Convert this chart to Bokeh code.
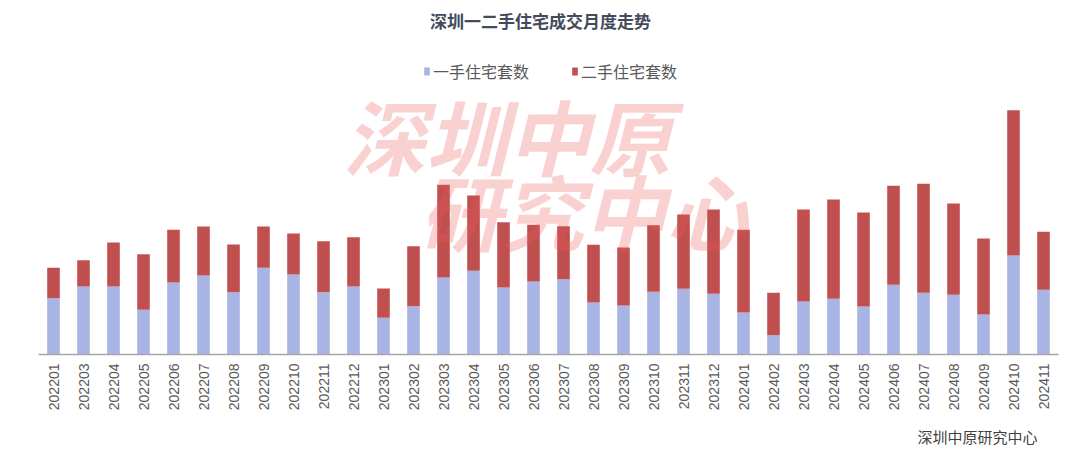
from bokeh.plotting import figure
from bokeh.models import ColumnDataSource, Label, FactorRange, Title
from bokeh.embed import file_html
from bokeh.resources import INLINE
import math

months = ["202201", "202203", "202204", "202205", "202206", "202207", "202208", "202209",
          "202210", "202211", "202212", "202301", "202302", "202303", "202304", "202305",
          "202306", "202307", "202308", "202309", "202310", "202311", "202312", "202401",
          "202402", "202403", "202404", "202405", "202406", "202407", "202408", "202409",
          "202410", "202411"]
new_homes = [2815, 3400, 3400, 2235, 3600, 3950, 3115, 4335, 4000, 3115, 3400, 1835, 2415,
             3850, 4185, 3350, 3650, 3765, 2600, 2450, 3135, 3285, 3035, 2100, 965, 2650,
             2785, 2400, 3485, 3085, 2985, 2000, 4950, 3235]
resale_homes = [1520, 1315, 2200, 2780, 2635, 2450, 2385, 2065, 2050, 2550, 2465, 1465, 3000,
                4635, 3765, 3265, 2835, 2650, 2885, 2900, 3330, 3715, 4215, 4135, 2120, 4600,
                4965, 4700, 4950, 5450, 4565, 3800, 7265, 2900]
series_names = ["一手住宅套数", "二手住宅套数"]

title_text = "深圳一二手住宅成交月度走势"
source_text = "深圳中原研究中心"
watermark_lines = ["深圳中原", "研究中心"]

BLUE = "#a7b4e4"
RED = "#c0504f"
CJK = "Noto Sans CJK SC"

source = ColumnDataSource(data=dict(month=months, new=new_homes, resale=resale_homes))

p = figure(width=1064, height=456, x_range=FactorRange(*months, range_padding=0),
           y_range=(0, 17700), output_backend="svg", toolbar_location=None,
           y_axis_location=None, min_border_left=38, min_border_right=6,
           min_border_top=0, min_border_bottom=102)
p.outline_line_color = None
p.grid.visible = False
p.background_fill_color = "white"
p.border_fill_color = "white"

p.vbar_stack(["new", "resale"], x="month", width=0.42, color=[BLUE, RED],
             source=source, legend_label=series_names, line_color=None)

ax = p.xaxis[0]
ax.axis_line_color = "#a6a6a6"
ax.axis_line_width = 1.5
ax.major_tick_line_color = None
ax.minor_tick_line_color = None
ax.major_tick_out = 0
ax.major_tick_in = 0
ax.major_label_orientation = math.pi / 2
ax.major_label_standoff = 9
ax.major_label_text_font = "Liberation Sans"
ax.major_label_text_font_size = "14px"
ax.major_label_text_color = "#595959"
ax.group_text_font_size = "0px"

lg = p.legend[0]
lg.location = (385, 271)
lg.orientation = "horizontal"
lg.border_line_color = None
lg.background_fill_alpha = 0
lg.padding = 0
lg.margin = 0
lg.spacing = 42
lg.glyph_width = 7
lg.glyph_height = 10
lg.label_standoff = 3
lg.label_text_font = CJK
lg.label_text_font_size = "16px"
lg.label_text_color = "#595959"
lg.label_height = 18

# watermark
p.add_layout(Label(x=305, y=220, x_units="screen", y_units="screen", text=watermark_lines[0],
                   text_font=CJK, text_font_size="82px", text_font_style="bold italic",
                   text_color="#ee5a5a", text_alpha=0.28, text_baseline="middle",
                   text_align="left"))
p.add_layout(Label(x=381, y=145, x_units="screen", y_units="screen", text=watermark_lines[1],
                   text_font=CJK, text_font_size="82px", text_font_style="bold italic",
                   text_color="#ee5a5a", text_alpha=0.28, text_baseline="middle",
                   text_align="left"))

# title
p.add_layout(Label(x=502, y=334, x_units="screen", y_units="screen", text=title_text,
                   text_font=CJK, text_font_size="17px", text_font_style="bold",
                   text_color="#434a5c", text_baseline="middle", text_align="center"))

# source
p.add_layout(Title(text=source_text, align="right", offset=21, standoff=20,
                   text_font=CJK, text_font_size="15px", text_font_style="normal",
                   text_color="#404040"), "below")

open("out.html", "w").write(file_html(p, INLINE))
